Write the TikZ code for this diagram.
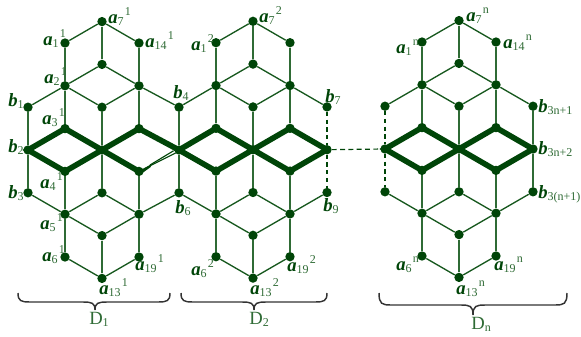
\documentclass[tikz,border=0pt]{standalone}
\usepackage{fontspec}
\setmainfont{Liberation Serif}
\definecolor{dg}{HTML}{004508}
\definecolor{lg}{HTML}{2F6B35}
\tikzset{
 thinl/.style={draw=lg!50!dg,line width=1pt},
 vert/.style={draw=lg,line width=1.25pt},
 thickl/.style={draw=dg,line width=4.2pt,line join=miter},
 sliver/.style={draw=dg,line width=0.85pt},
 dot/.style={circle,fill=dg,inner sep=0pt,minimum size=7pt},
 lab/.style={anchor=base west,inner sep=0pt,text=lg,font=\fontsize{14pt}{14pt}\selectfont},
 dname/.style={anchor=base west,inner sep=0pt,text=lg,font=\fontsize{14pt}{14pt}\selectfont},
 dashv/.style={draw=dg,line width=1.6pt,dash pattern=on 3.2pt off 2.6pt},
 dashh/.style={draw=dg,line width=0.9pt,dash pattern=on 3.6pt off 2.6pt},
 bracel/.style={draw=black!80,line width=1.1pt},
}
\newcommand{\subt}[1]{\raisebox{-2.2pt}{\fontsize{9pt}{9pt}\selectfont #1}}
\newcommand{\supt}[1]{\raisebox{5.5pt}{\fontsize{9pt}{9pt}\selectfont #1}}
\newcommand{\lbl}[3]{\textcolor{dg}{\textbf{\textit{#1}}}\subt{#2}\kern1pt\supt{#3}}
\newcommand{\lbb}[2]{\textcolor{dg}{\textbf{\textit{#1}}}\subt{#2}}
% column of three boundary vertices: name, x, y of the block's top, connector style
\newcommand{\dcolumn}[4]{%
 \node[dot] (#1u) at (#2,{#3+4*21.4}) {};
 \node[dot] (#1m) at (#2,{#3+6*21.4}) {};
 \node[dot] (#1d) at (#2,{#3+8*21.4}) {};
 \draw[#4] (#1u) -- (#1m);
 \draw[#4] (#1m) -- (#1d);
}
% block: prefix, left column, right column, x1, x2, x3, y of top
\newcommand{\dblock}[7]{%
 \node[dot] (#1t) at (#5,{#7}) {};
 \node[dot] (#1a) at (#4,{#7+1*21.4}) {};
 \node[dot] (#1b) at (#6,{#7+1*21.4}) {};
 \node[dot] (#1e) at (#5,{#7+2*21.4}) {};
 \node[dot] (#1f) at (#4,{#7+3*21.4}) {};
 \node[dot] (#1g) at (#6,{#7+3*21.4}) {};
 \node[dot] (#1h) at (#5,{#7+4*21.4}) {};
 \node[dot] (#1i) at (#4,{#7+5*21.4}) {};
 \node[dot] (#1j) at (#6,{#7+5*21.4}) {};
 \node[dot] (#1c) at (#5,{#7+6*21.4}) {};
 \node[dot] (#1k) at (#4,{#7+7*21.4}) {};
 \node[dot] (#1l) at (#6,{#7+7*21.4}) {};
 \node[dot] (#1n) at (#5,{#7+8*21.4}) {};
 \node[dot] (#1o) at (#4,{#7+9*21.4}) {};
 \node[dot] (#1p) at (#6,{#7+9*21.4}) {};
 \node[dot] (#1q) at (#5,{#7+10*21.4}) {};
 \node[dot] (#1r) at (#4,{#7+11*21.4}) {};
 \node[dot] (#1s) at (#6,{#7+11*21.4}) {};
 \node[dot] (#1v) at (#5,{#7+12*21.4}) {};
 \draw[thinl] (#1a) -- (#1t);
 \draw[thinl] (#1t) -- (#1b);
 \draw[thinl] (#2u) -- (#1f);
 \draw[thinl] (#1f) -- (#1e);
 \draw[thinl] (#1e) -- (#1g);
 \draw[thinl] (#1g) -- (#3u);
 \draw[thinl] (#1f) -- (#1h);
 \draw[thinl] (#1h) -- (#1g);
 \draw[thinl] (#2d) -- (#1o);
 \draw[thinl] (#1o) -- (#1n);
 \draw[thinl] (#1n) -- (#1p);
 \draw[thinl] (#1p) -- (#3d);
 \draw[thinl] (#1o) -- (#1q);
 \draw[thinl] (#1q) -- (#1p);
 \draw[thinl] (#1r) -- (#1v);
 \draw[thinl] (#1v) -- (#1s);
 \draw[vert] (#1t) -- (#1e);
 \draw[vert] (#1a) -- (#1f);
 \draw[vert] (#1f) -- (#1i);
 \draw[vert] (#1b) -- (#1g);
 \draw[vert] (#1g) -- (#1j);
 \draw[vert] (#1h) -- (#1c);
 \draw[vert] (#1c) -- (#1n);
 \draw[vert] (#1k) -- (#1o);
 \draw[vert] (#1o) -- (#1r);
 \draw[vert] (#1l) -- (#1p);
 \draw[vert] (#1p) -- (#1s);
 \draw[vert] (#1q) -- (#1v);
 \draw[thickl] (#2m.center) -- (#1i.center) -- (#1c.center) -- (#1k.center) -- cycle;
 \draw[thickl] (#1l.center) -- (#1c.center) -- (#1j.center) -- (#3m.center);
}
% brace: name, left x, tip x, right x, top y, middle y, tip y
\newcommand{\dbrace}[7]{%
 \coordinate (#1l) at (#2,#5);
 \coordinate (#1m) at (#3,#7);
 \coordinate (#1r) at (#4,#5);
 \draw[bracel] (#1l) .. controls (#2,{#6-1}) and ({#2+3},#6) .. ({#2+12},#6)
   -- ({#3-12},#6) .. controls ({#3-3},#6) and (#3,{#6+1}) .. (#1m)
   .. controls (#3,{#6+1}) and ({#3+3},#6) .. ({#3+12},#6)
   -- ({#4-12},#6) .. controls ({#4-3},#6) and (#4,{#6-1}) .. (#1r);
}
\begin{document}
\begin{tikzpicture}[x=0.75pt,y=-0.75pt]
\useasboundingbox (0,0) rectangle (581,336);
\dcolumn{A}{28}{21.6}{vert}
\dcolumn{B}{179}{21.6}{vert}
\dcolumn{C}{327}{21.3}{dashv}
\dcolumn{E}{385}{20.6}{dashv}
\dcolumn{F}{533}{20.6}{vert}
\dblock{P}{A}{B}{65}{102}{139}{21.6}
\dblock{Q}{B}{C}{216}{253}{290}{21.3}
\dblock{R}{E}{F}{422}{459}{496}{20.6}
\draw[thickl] (Ql.center) -- (Cm.center);
\draw[thickl] (Rl.center) -- (Fm.center);
% the split edge of the first block
\coordinate (splitA) at (150,165);
\coordinate (splitB) at (173.5,150.8);
\coordinate (splitC) at (175.5,153);
\coordinate (splitD) at (151,166.8);
\coordinate (splitE) at (139,175.5);
\fill[dg] (Pl.center) -- (splitA) -- (splitD) -- (splitE) -- cycle;
\draw[sliver] (splitA) -- (splitB);
\draw[sliver] (Pl.center) -- (splitC);
\draw[dashh] (Cm) -- (Em);
% labels
\node[lab] (la7) at (108,23) {\lbl{a}{7}{1}};
\node[lab] (la1) at (43,45) {\lbl{a}{1}{1}};
\node[lab] (la14) at (145,47) {\lbl{a}{14}{1}};
\node[lab] (la2) at (44,83) {\lbl{a}{2}{1}};
\node[lab] (lb1) at (8,106) {\lbb{b}{1}};
\node[lab] (la3) at (42,124) {\lbl{a}{3}{1}};
\node[lab] (lb4) at (173,98) {\lbb{b}{4}};
\node[lab] (lb2) at (8,152) {\lbb{b}{2}};
\node[lab] (la4) at (40,188) {\lbl{a}{4}{1}};
\node[lab] (lb3) at (8,198) {\lbb{b}{3}};
\node[lab] (lb6) at (175,213) {\lbb{b}{6}};
\node[lab] (la5) at (40,229) {\lbl{a}{5}{1}};
\node[lab] (la6) at (42,261) {\lbl{a}{6}{1}};
\node[lab] (la19) at (135,270) {\lbl{a}{19}{1}};
\node[lab] (la13) at (99,294) {\lbl{a}{13}{1}};
\node[dname] (d1) at (89,324) {D\subt{1}};
\node[lab] (ma7) at (259,22) {\lbl{a}{7}{2}};
\node[lab] (ma1) at (191,50) {\lbl{a}{1}{2}};
\node[lab] (lb7) at (325,102) {\lbb{b}{7}};
\node[lab] (ma6) at (191,275) {\lbl{a}{6}{2}};
\node[lab] (ma19) at (287,271) {\lbl{a}{19}{2}};
\node[lab] (ma13) at (250,294) {\lbl{a}{13}{2}};
\node[lab] (lb9) at (323,211) {\lbb{b}{9}};
\node[dname] (d2) at (249,324) {D\subt{2}};
\node[lab] (na7) at (466,21) {\lbl{a}{7}{n}};
\node[lab] (na1) at (396,53) {\lbl{a}{1}{n}};
\node[lab] (na14) at (503,48) {\lbl{a}{14}{n}};
\node[lab] (nb1) at (538,112) {\lbb{b}{3n+1}};
\node[lab] (nb2) at (538,154) {\lbb{b}{3n+2}};
\node[lab] (nb3) at (538,198) {\lbb{b}{3(n+1)}};
\node[lab] (na6) at (396,270) {\lbl{a}{6}{n}};
\node[lab] (na19) at (494,270) {\lbl{a}{19}{n}};
\node[lab] (na13) at (456,294) {\lbl{a}{13}{n}};
\node[dname] (dn) at (471,329) {D\subt{n}};
\dbrace{bra}{18}{95}{170}{293}{302}{310}
\dbrace{brb}{181}{254}{327}{293}{302}{310}
\dbrace{brc}{379}{473}{567}{293}{305}{315}
\end{tikzpicture}
\end{document}
